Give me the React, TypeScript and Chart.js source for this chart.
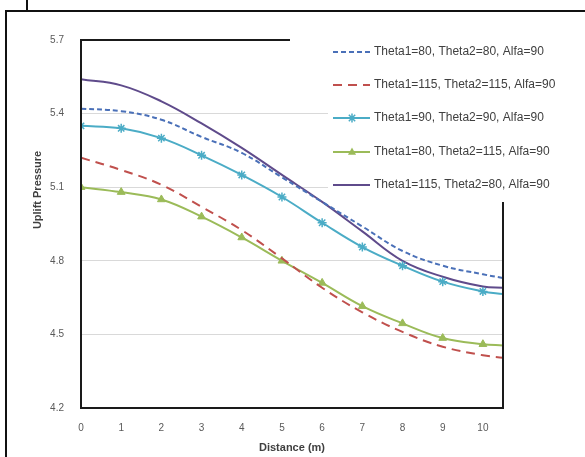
import { useEffect, useRef } from 'react';
import { Chart, registerables } from 'chart.js';
Chart.register(...registerables);

const distances = [0, 1, 2, 3, 4, 5, 6, 7, 8, 9, 10, 10.5];
const yTicks = [4.2, 4.5, 4.8, 5.1, 5.4, 5.7];
const xTicks = [0, 1, 2, 3, 4, 5, 6, 7, 8, 9, 10];

const labels = [
  'Theta1=80, Theta2=80, Alfa=90',
  'Theta1=115, Theta2=115, Alfa=90',
  'Theta1=90, Theta2=90, Alfa=90',
  'Theta1=80, Theta2=115, Alfa=90',
  'Theta1=115, Theta2=80, Alfa=90',
];
const s80_80 = [5.42, 5.41, 5.375, 5.305, 5.24, 5.14, 5.04, 4.94, 4.84, 4.78, 4.745, 4.73];
const s115_115 = [5.22, 5.17, 5.11, 5.02, 4.925, 4.81, 4.69, 4.59, 4.51, 4.45, 4.415, 4.405];
const s90_90 = [5.35, 5.34, 5.3, 5.23, 5.15, 5.06, 4.955, 4.856, 4.78, 4.715, 4.675, 4.665];
const s80_115 = [5.1, 5.08, 5.05, 4.98, 4.895, 4.8, 4.71, 4.615, 4.545, 4.485, 4.46, 4.455];
const s115_80 = [5.54, 5.515, 5.45, 5.36, 5.26, 5.15, 5.04, 4.92, 4.8, 4.735, 4.695, 4.69];

const colors = ['#4a70b8', '#c0504d', '#4bacc6', '#9bbb59', '#5f4b8b'];
const dashes = [[5, 3], [9, 6], [], [], []];
const markers: (string | null)[] = [null, null, 'star', 'triangle', null];

const FONT = '"Liberation Sans", Arial, sans-serif';

function pts(vals: number[]) {
  return vals.map((v, i) => ({ x: distances[i], y: v }));
}

function drawMarker(ctx: CanvasRenderingContext2D, style: string, x: number, y: number, color: string) {
  ctx.save();
  ctx.setLineDash([]);
  ctx.strokeStyle = color;
  ctx.fillStyle = color;
  ctx.lineWidth = 1.5;
  if (style === 'triangle') {
    const r = 4.5;
    ctx.beginPath();
    ctx.moveTo(x, y - r);
    ctx.lineTo(x + r * 0.9, y + r * 0.6);
    ctx.lineTo(x - r * 0.9, y + r * 0.6);
    ctx.closePath();
    ctx.fill();
  } else if (style === 'star') {
    const r = 4.5;
    ctx.beginPath();
    for (let k = 0; k < 4; k++) {
      const a = (Math.PI / 4) * k;
      ctx.moveTo(x - r * Math.cos(a), y - r * Math.sin(a));
      ctx.lineTo(x + r * Math.cos(a), y + r * Math.sin(a));
    }
    ctx.stroke();
  }
  ctx.restore();
}

const decor = {
  id: 'decor',
  beforeDraw(chart: any) {
    const ctx = chart.ctx as CanvasRenderingContext2D;
    ctx.save();
    ctx.fillStyle = '#ffffff';
    ctx.fillRect(0, 0, chart.width, chart.height);
    ctx.strokeStyle = '#111';
    ctx.lineWidth = 2;
    ctx.beginPath();
    ctx.moveTo(6, 457);
    ctx.lineTo(6, 11);
    ctx.lineTo(585, 11);
    ctx.moveTo(27, 0);
    ctx.lineTo(27, 11);
    ctx.stroke();
    ctx.restore();
  },
  afterDatasetsDraw(chart: any) {
    const ctx = chart.ctx as CanvasRenderingContext2D;
    const { left, right, top, bottom } = chart.chartArea;
    ctx.save();
    // legend background
    ctx.fillStyle = '#ffffff';
    ctx.fillRect(328, 36, 250, 164);
    // plot border
    ctx.strokeStyle = '#1a1a1a';
    ctx.lineWidth = 2;
    ctx.beginPath();
    ctx.moveTo(290, top);
    ctx.lineTo(left, top);
    ctx.lineTo(left, bottom);
    ctx.lineTo(right, bottom);
    ctx.lineTo(right, 202);
    ctx.stroke();
    // legend
    const ys = [52, 85, 118, 152, 185];
    ctx.font = `12px ${FONT}`;
    ctx.textBaseline = 'middle';
    ctx.textAlign = 'left';
    labels.forEach((lab, i) => {
      const y = ys[i];
      ctx.strokeStyle = colors[i];
      ctx.lineWidth = 2;
      ctx.setLineDash(dashes[i]);
      ctx.beginPath();
      ctx.moveTo(333, y);
      ctx.lineTo(370, y);
      ctx.stroke();
      const m = markers[i];
      if (m) drawMarker(ctx, m, 352, y, colors[i]);
      ctx.setLineDash([]);
      ctx.fillStyle = '#404040';
      ctx.fillText(lab, 374, y);
    });
    // axis titles
    ctx.fillStyle = '#404040';
    ctx.font = `bold 11px ${FONT}`;
    ctx.textAlign = 'center';
    ctx.fillText('Distance (m)', 292, 448);
    ctx.translate(38, 190);
    ctx.rotate(-Math.PI / 2);
    ctx.fillText('Uplift Pressure', 0, 0);
    ctx.restore();
  },
};

export default function App() {
  const ref = useRef<HTMLCanvasElement>(null);
  useEffect(() => {
    document.body.style.margin = '0';
    const all = [s80_80, s115_115, s90_90, s80_115, s115_80];
    const chart = new Chart(ref.current as HTMLCanvasElement, {
      type: 'line',
      data: {
        datasets: all.map((vals, i) => ({
          label: labels[i],
          data: pts(vals),
          borderColor: colors[i],
          backgroundColor: colors[i],
          borderWidth: 2,
          borderDash: dashes[i],
          tension: 0.4,
          fill: false,
          pointStyle: (markers[i] || 'circle') as any,
          pointRadius: markers[i] ? distances.map((d) => (Number.isInteger(d) ? 4.5 : 0)) : 0,
          pointBorderWidth: markers[i] === 'star' ? 1.5 : 1,
          pointHoverRadius: 0,
        })),
      },
      options: {
        responsive: false,
        animation: false,
        events: [],
        layout: { padding: { left: 0, top: 40, right: 82, bottom: 0 } },
        plugins: { legend: { display: false }, tooltip: { enabled: false } },
        scales: {
          x: {
            type: 'linear',
            min: 0,
            max: 10.5,
            afterBuildTicks: (axis: any) => {
              axis.ticks = xTicks.map((v) => ({ value: v }));
            },
            afterFit: (axis: any) => {
              axis.height = 49;
            },
            grid: { display: false, drawTicks: false },
            border: { display: false },
            ticks: {
              padding: 14,
              color: '#595959',
              font: { family: FONT, size: 10 },
              maxRotation: 0,
              autoSkip: false,
            },
          },
          y: {
            min: 4.2,
            max: 5.7,
            afterBuildTicks: (axis: any) => {
              axis.ticks = yTicks.map((v) => ({ value: v }));
            },
            afterFit: (axis: any) => {
              axis.width = 81;
            },
            grid: {
              drawTicks: false,
              color: (c: any) => (c.tick && (c.tick.value === 4.2 || c.tick.value === 5.7) ? 'rgba(0,0,0,0)' : '#d9d9d9'),
              lineWidth: 1,
            },
            border: { display: false },
            ticks: {
              padding: 17,
              color: '#595959',
              font: { family: FONT, size: 10 },
              callback: (v: any) => Number(v).toFixed(1),
            },
          },
        },
      },
      plugins: [decor],
    });
    return () => chart.destroy();
  }, []);
  return (
    <div style={{ width: 585, height: 457, position: 'relative' }}>
      <canvas ref={ref} width={585} height={457} style={{ display: 'block' }} />
    </div>
  );
}
